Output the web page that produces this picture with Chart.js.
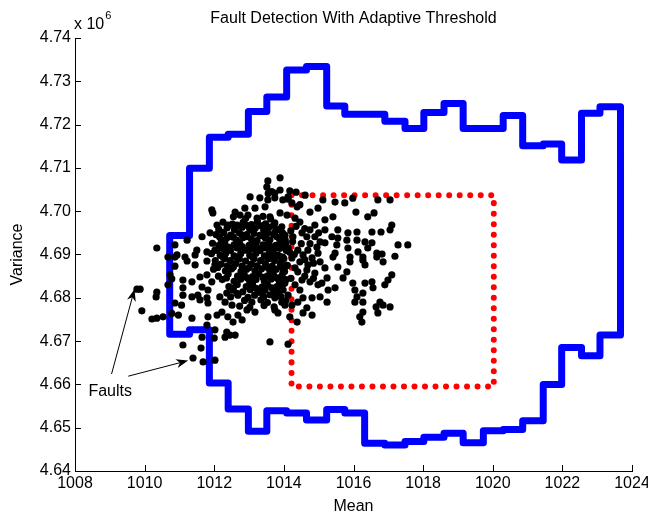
<!DOCTYPE html>
<html><head><meta charset="utf-8">
<script src="https://cdn.jsdelivr.net/npm/chart.js@4.4.1/dist/chart.umd.min.js"></script>
<style>html,body{margin:0;padding:0;background:#fff;}canvas{display:block;}</style>
</head><body>
<canvas id="c" width="648" height="515"></canvas>
<script>
// ---- tick labels ----
const xTicks = [1008, 1010, 1012, 1014, 1016, 1018, 1020, 1022, 1024];
const yTicks = [4.64, 4.65, 4.66, 4.67, 4.68, 4.69, 4.70, 4.71, 4.72, 4.73, 4.74]; // x 10^6

// ---- adaptive threshold (stair envelope) ----
const binEdges = [1010.72, 1011.29, 1011.86, 1012.40, 1012.98, 1013.51, 1014.08, 1014.65, 1015.23, 1015.75, 1016.32, 1016.90, 1017.48, 1018.02, 1018.60, 1019.15, 1019.73, 1020.30, 1020.86, 1021.45, 1021.98, 1022.55, 1023.08, 1023.67];
const upperLimit = [4.6944, 4.7099, 4.7171, 4.7178, 4.7230, 4.7264, 4.7326, 4.7334, 4.7243, 4.7224, 4.7224, 4.7208, 4.7191, 4.7228, 4.7249, 4.7191, 4.7191, 4.7221, 4.7151, 4.7155, 4.7118, 4.7226, 4.7241];
const lowerLimit = [4.6716, 4.6726, 4.6603, 4.6543, 4.6492, 4.6539, 4.6534, 4.6518, 4.6542, 4.6534, 4.6464, 4.6460, 4.6468, 4.6478, 4.6487, 4.6465, 4.6493, 4.6496, 4.6516, 4.6600, 4.6685, 4.6666, 4.6714];

// ---- fixed threshold (rectangle) ----
const fixedMean = [1014.22, 1020.03];
const fixedVariance = [4.6595, 4.7037];

// ---- samples [mean, variance x10^6] ----
const faultSamples = [[1009.78,4.6820],[1009.87,4.6820],[1009.92,4.6770],[1010.21,4.6751],[1010.35,4.6753],[1010.53,4.6756],[1010.35,4.6813],[1010.33,4.6802],[1010.67,4.6830],[1010.73,4.6853],[1010.87,4.6894],[1010.87,4.6873],[1010.35,4.6915],[1011.10,4.6691],[1011.39,4.6661],[1011.62,4.6684],[1011.65,4.6709],[1011.68,4.6652],[1012.02,4.6656],[1012.00,4.6707],[1010.87,4.6788],[1011.36,4.6753],[1011.79,4.6737],[1013.60,4.6698],[1014.12,4.6693]];
const leftSamples = [[1010.78,4.6844],[1010.78,4.6764],[1010.97,4.6760],[1011.06,4.6783],[1011.22,4.6885],[1011.45,4.6876],[1011.79,4.6885],[1012.02,4.6876],[1011.10,4.6841],[1011.36,4.6837],[1011.59,4.6848],[1011.79,4.6853],[1011.93,4.6837],[1011.10,4.6823],[1011.65,4.6825],[1011.82,4.6818],[1011.10,4.6806],[1011.36,4.6802],[1011.53,4.6806],[1011.79,4.6800],[1012.16,4.6802],[1012.36,4.6811],[1011.59,4.6795],[1011.82,4.6788],[1012.31,4.6790],[1012.51,4.6783],[1011.82,4.6756],[1012.08,4.6760],[1012.22,4.6767],[1012.39,4.6756],[1012.68,4.6760],[1012.94,4.6772],[1013.17,4.6767],[1012.80,4.6749],[1012.02,4.6726],[1012.36,4.6721],[1012.45,4.6714],[1012.60,4.6714],[1012.31,4.6709],[1012.54,4.6744]];
const upperLeftSamples = [[1013.54,4.7070],[1013.89,4.7077],[1013.51,4.7056],[1013.74,4.7042],[1013.03,4.7033],[1013.31,4.7031],[1013.54,4.7026],[1013.46,4.7010],[1013.17,4.7007],[1012.88,4.7007],[1011.93,4.7003],[1011.96,4.6996],[1012.60,4.6998],[1012.74,4.6991],[1012.97,4.6991],[1013.23,4.6984],[1012.08,4.6968],[1012.39,4.6968],[1012.65,4.6968],[1011.88,4.6950],[1011.65,4.6941],[1012.51,4.6941],[1012.80,4.6945],[1010.87,4.6922],[1011.22,4.6933],[1011.50,4.6910],[1011.79,4.6906],[1012.02,4.6910],[1010.67,4.6894],[1010.93,4.6899],[1011.16,4.6894],[1011.45,4.6899],[1013.60,4.6987],[1013.55,4.7041],[1013.65,4.7045]];
const upperRightSamples = [[1013.89,4.7049],[1014.17,4.7047],[1014.35,4.7044],[1013.74,4.7031],[1013.97,4.7026],[1014.12,4.7033],[1014.61,4.7037],[1014.38,4.7010],[1015.12,4.7026],[1015.47,4.7021],[1015.75,4.7019],[1015.98,4.7030],[1016.70,4.7026],[1017.05,4.7026],[1014.75,4.6998],[1014.98,4.7007],[1016.07,4.6998],[1016.41,4.6987],[1016.59,4.6996],[1015.18,4.6980],[1015.41,4.6987],[1013.89,4.6996],[1014.09,4.6991],[1014.32,4.6984],[1013.74,4.6973],[1013.94,4.6964],[1014.46,4.6975],[1014.89,4.6968],[1014.75,4.6957],[1015.18,4.6957],[1015.55,4.6957],[1016.10,4.6952],[1015.84,4.6950],[1016.53,4.6952],[1016.79,4.6952],[1017.10,4.6968],[1017.05,4.6957],[1013.74,4.6952],[1014.03,4.6945],[1014.26,4.6941],[1014.52,4.6950],[1014.66,4.6941],[1014.89,4.6941],[1015.04,4.6929],[1015.38,4.6941],[1015.55,4.6938],[1015.81,4.6933],[1016.10,4.6933],[1016.33,4.6929],[1016.53,4.6927],[1017.28,4.6922],[1017.56,4.6922],[1013.83,4.6922],[1014.12,4.6915],[1014.40,4.6910],[1014.69,4.6910],[1014.95,4.6917],[1015.18,4.6927],[1015.52,4.6922],[1015.84,4.6915],[1016.13,4.6906],[1016.41,4.6915],[1014.98,4.6903],[1015.47,4.6903],[1016.67,4.6903],[1016.82,4.6901],[1017.19,4.6896],[1013.74,4.6899],[1013.97,4.6894],[1014.17,4.6905],[1014.55,4.6899],[1014.81,4.6892],[1015.90,4.6894],[1016.27,4.6894],[1014.23,4.7019],[1014.46,4.7015],[1014.12,4.7028]];
const lowerRightSamples = [[1015.41,4.6894],[1015.55,4.6871],[1015.81,4.6860],[1015.90,4.6883],[1016.27,4.6887],[1016.33,4.6876],[1016.67,4.6894],[1016.85,4.6883],[1015.24,4.6846],[1015.09,4.6834],[1015.70,4.6846],[1015.98,4.6834],[1016.33,4.6834],[1016.53,4.6837],[1015.47,4.6823],[1016.04,4.6818],[1016.56,4.6823],[1016.90,4.6830],[1017.10,4.6853],[1016.99,4.6841],[1016.10,4.6802],[1016.27,4.6811],[1016.04,4.6790],[1016.27,4.6790],[1016.76,4.6790],[1016.85,4.6783],[1017.05,4.6779],[1016.65,4.6779],[1016.70,4.6765],[1016.27,4.6767],[1016.18,4.6756],[1016.24,4.6744],[1014.55,4.6800],[1014.81,4.6800],[1015.04,4.6802],[1015.24,4.6790],[1014.66,4.6777],[1014.55,4.6765],[1014.81,4.6760],[1014.17,4.6756],[1014.38,4.6744],[1013.74,4.6800],[1013.89,4.6818],[1014.12,4.6806],[1013.94,4.6790],[1013.74,4.6772],[1013.83,4.6765],[1014.32,4.6830],[1014.52,4.6841],[1014.75,4.6837],[1014.89,4.6857],[1014.69,4.6876],[1014.46,4.6883],[1014.23,4.6892],[1013.94,4.6887],[1014.32,4.6869],[1014.66,4.6864],[1013.97,4.6857],[1014.03,4.6834],[1015.04,4.6883],[1015.18,4.6869],[1014.98,4.6830],[1015.27,4.6818],[1014.46,4.6818],[1014.23,4.6783],[1014.40,4.6790],[1014.03,4.6783],[1014.05,4.6925],[1014.25,4.6930],[1014.50,4.6925],[1014.75,4.6925],[1014.30,4.6900],[1014.60,4.6888],[1014.85,4.6880],[1014.10,4.6875],[1014.40,4.6860],[1014.60,4.6850],[1014.20,4.6845],[1014.85,4.6845],[1014.35,4.6965],[1014.60,4.6960],[1014.20,4.6955],[1015.00,4.6950]];
const coreSamples = [
[1012.55,4.6987],[1012.90,4.6983],[1013.40,4.6988],[1013.62,4.6982],
[1012.25,4.6975],[1012.52,4.6970],[1012.83,4.6974],[1013.07,4.6969],[1013.24,4.6976],[1013.47,4.6971],
[1012.13,4.6958],[1012.37,4.6962],[1012.58,4.6957],[1012.80,4.6963],[1013.02,4.6958],[1013.18,4.6961],[1013.42,4.6956],[1013.57,4.6963],[1013.82,4.6958],
[1012.05,4.6946],[1012.27,4.6951],[1012.47,4.6945],[1012.72,4.6950],[1012.93,4.6946],[1013.14,4.6949],[1013.31,4.6944],[1013.54,4.6950],[1013.71,4.6946],[1013.96,4.6950],
[1012.20,4.6934],[1012.36,4.6938],[1012.64,4.6933],[1012.83,4.6939],[1013.07,4.6935],[1013.23,4.6932],[1013.47,4.6938],[1013.60,4.6934],[1013.87,4.6937],[1014.04,4.6933],
[1011.95,4.6926],[1012.13,4.6921],[1012.30,4.6927],[1012.57,4.6922],[1012.73,4.6926],[1013.00,4.6921],[1013.16,4.6927],[1013.40,4.6922],[1013.56,4.6926],[1013.77,4.6921],[1013.93,4.6927],
[1012.07,4.6910],[1012.23,4.6914],[1012.47,4.6909],[1012.66,4.6915],[1012.90,4.6910],[1013.06,4.6913],[1013.32,4.6909],[1013.48,4.6915],[1013.70,4.6910],[1013.88,4.6914],[1014.07,4.6909],
[1011.92,4.6902],[1012.17,4.6898],[1012.33,4.6903],[1012.57,4.6897],[1012.76,4.6902],[1013.02,4.6898],[1013.20,4.6903],[1013.44,4.6897],[1013.58,4.6902],[1013.84,4.6898],
[1012.03,4.6886],[1012.30,4.6891],[1012.46,4.6886],[1012.72,4.6890],[1012.90,4.6885],[1013.14,4.6890],[1013.33,4.6886],[1013.57,4.6891],[1013.73,4.6886],[1014.00,4.6890],
[1012.20,4.6878],[1012.38,4.6874],[1012.62,4.6879],[1012.80,4.6873],[1013.07,4.6878],[1013.23,4.6874],[1013.47,4.6879],[1013.66,4.6873],[1013.90,4.6878],[1014.08,4.6874],
[1011.98,4.6866],[1012.32,4.6862],[1012.50,4.6867],[1012.77,4.6861],[1012.93,4.6866],[1013.17,4.6862],[1013.36,4.6867],[1013.60,4.6862],[1013.78,4.6866],[1014.02,4.6861],
[1012.12,4.6850],[1012.40,4.6855],[1012.67,4.6850],[1012.86,4.6854],[1013.10,4.6849],[1013.28,4.6855],[1013.52,4.6850],[1013.70,4.6854],[1013.94,4.6850],
[1012.23,4.6842],[1012.57,4.6838],[1012.76,4.6843],[1013.02,4.6837],[1013.20,4.6842],[1013.44,4.6838],[1013.63,4.6843],[1013.87,4.6838],[1014.06,4.6842],
[1012.42,4.6826],[1012.66,4.6831],[1012.92,4.6826],[1013.10,4.6830],[1013.37,4.6825],[1013.53,4.6830],[1013.80,4.6826],[1013.96,4.6830],
[1012.53,4.6818],[1012.82,4.6814],[1013.03,4.6819],[1013.27,4.6813],[1013.46,4.6818],[1013.72,4.6814],[1013.98,4.6818],
[1012.47,4.6802],[1012.68,4.6806],[1012.97,4.6801],[1013.16,4.6806],[1013.42,4.6802],[1013.60,4.6807],[1013.92,4.6802],
[1012.87,4.6794],[1013.08,4.6790],[1013.34,4.6795],[1013.53,4.6789],[1014.05,4.6793],
[1012.73,4.6781],[1013.02,4.6778],[1013.43,4.6782],[1013.72,4.6779]];
const coreFillSamples = [
[1012.40,4.6967],[1012.68,4.6966],[1012.95,4.6967],[1013.35,4.6966],[1013.70,4.6967],
[1012.15,4.6941],[1012.55,4.6940],[1012.95,4.6941],[1013.42,4.6942],[1013.80,4.6941],
[1012.40,4.6917],[1012.80,4.6918],[1013.22,4.6917],[1013.62,4.6918],[1014.00,4.6917],
[1012.25,4.6894],[1012.65,4.6893],[1013.10,4.6894],[1013.50,4.6895],[1013.92,4.6894],
[1012.10,4.6870],[1012.55,4.6871],[1013.00,4.6870],[1013.55,4.6869],[1013.95,4.6870],
[1012.35,4.6846],[1012.95,4.6846],[1013.40,4.6847],[1013.80,4.6846],
[1012.55,4.6822],[1013.20,4.6822],[1013.65,4.6823],
[1012.65,4.6810],[1013.38,4.6810],[1013.85,4.6811]];

// ---- annotation (data coordinates) ----
const faultLabel = {mean: 1009.01, variance: 4.6584, text: 'Faults'};
const faultArrows = [
  {from: [1009.05, 4.6624], to: [1009.71, 4.6820]},
  {from: [1009.53, 4.6619], to: [1011.25, 4.6655]}
];

// ---- build datasets ----
const toXY = p => ({x: p[0], y: p[1]});
const samplePoints = [].concat(faultSamples, leftSamples, upperLeftSamples, upperRightSamples, lowerRightSamples, coreSamples, coreFillSamples).map(toXY);

const adaptivePath = [];
adaptivePath.push({x: binEdges[0], y: lowerLimit[0]});
for (let i = 0; i < upperLimit.length; i++) {
  adaptivePath.push({x: binEdges[i], y: upperLimit[i]});
  adaptivePath.push({x: binEdges[i + 1], y: upperLimit[i]});
}
for (let i = lowerLimit.length - 1; i >= 0; i--) {
  adaptivePath.push({x: binEdges[i + 1], y: lowerLimit[i]});
  adaptivePath.push({x: binEdges[i], y: lowerLimit[i]});
}

const fixedPath = [
  {x: fixedMean[0], y: fixedVariance[1]},
  {x: fixedMean[1], y: fixedVariance[1]},
  {x: fixedMean[1], y: fixedVariance[0]},
  {x: fixedMean[0], y: fixedVariance[0]},
  {x: fixedMean[0], y: fixedVariance[1]}
];

const FONT = "'Liberation Sans', Arial, Helvetica, sans-serif";

const inwardTicks = {
  id: 'inwardTicks',
  afterDraw(chart) {
    const {ctx, chartArea: {left, bottom}, scales: {x, y}} = chart;
    ctx.save();
    ctx.strokeStyle = '#000';
    ctx.lineWidth = 1;
    ctx.beginPath();
    xTicks.forEach(v => { const px = Math.round(x.getPixelForValue(v)) + 0.5; ctx.moveTo(px, bottom); ctx.lineTo(px, bottom - 6); });
    yTicks.forEach(v => { const py = Math.round(y.getPixelForValue(v)) + 0.5; ctx.moveTo(left, py); ctx.lineTo(left + 6, py); });
    ctx.stroke();
    ctx.restore();
  }
};

function arrow(ctx, x0, y0, x1, y1) {
  const dx = x1 - x0, dy = y1 - y0, len = Math.hypot(dx, dy);
  const ux = dx / len, uy = dy / len, nx = -uy, ny = ux;
  const L = 12, W = 4.5;
  ctx.beginPath();
  ctx.moveTo(x0, y0);
  ctx.lineTo(x1 - ux * L * 0.7, y1 - uy * L * 0.7);
  ctx.stroke();
  ctx.beginPath();
  ctx.moveTo(x1, y1);
  ctx.lineTo(x1 - ux * L + nx * W, y1 - uy * L + ny * W);
  ctx.lineTo(x1 - ux * L * 0.7, y1 - uy * L * 0.7);
  ctx.lineTo(x1 - ux * L - nx * W, y1 - uy * L - ny * W);
  ctx.closePath();
  ctx.fill();
}

const annotations = {
  id: 'annotations',
  afterDraw(chart) {
    const {ctx, chartArea, scales: {x, y}} = chart;
    ctx.save();
    ctx.fillStyle = '#000';
    ctx.strokeStyle = '#000';
    ctx.lineWidth = 1;
    ctx.font = '16px ' + FONT;
    ctx.textAlign = 'left';
    ctx.textBaseline = 'alphabetic';
    const base = 'x 10';
    ctx.fillText(base, chartArea.left - 1, chartArea.top - 9);
    const w = ctx.measureText(base).width;
    ctx.font = '11px ' + FONT;
    ctx.fillText('6', chartArea.left - 1 + w + 1, chartArea.top - 19);
    ctx.font = '16px ' + FONT;
    ctx.textAlign = 'center';
    ctx.textBaseline = 'middle';
    ctx.fillText(faultLabel.text, x.getPixelForValue(faultLabel.mean), y.getPixelForValue(faultLabel.variance));
    faultArrows.forEach(a => arrow(ctx,
      x.getPixelForValue(a.from[0]), y.getPixelForValue(a.from[1]),
      x.getPixelForValue(a.to[0]), y.getPixelForValue(a.to[1])));
    ctx.restore();
  }
};

new Chart(document.getElementById('c'), {
  type: 'scatter',
  data: {
    datasets: [
      {label: 'Samples', data: samplePoints, pointRadius: 3.6, pointHoverRadius: 3.6,
       pointBackgroundColor: '#000', pointBorderWidth: 0, showLine: false},
      {label: 'Adaptive threshold', data: adaptivePath, showLine: true, borderColor: '#0000ff',
       borderWidth: 7, pointRadius: 0, pointHoverRadius: 0, borderJoinStyle: 'round', borderCapStyle: 'round', fill: false},
      {label: 'Fixed threshold', data: fixedPath, showLine: true, borderColor: '#ff0000',
       borderWidth: 6, pointRadius: 0, pointHoverRadius: 0, borderDash: [0.01, 10.5], borderCapStyle: 'round', fill: false}
    ]
  },
  options: {
    responsive: false,
    animation: false,
    devicePixelRatio: 1,
    events: [],
    layout: {padding: {top: 0, right: 16, bottom: 0, left: 0}},
    plugins: {
      legend: {display: false},
      tooltip: {enabled: false},
      title: {display: true, text: 'Fault Detection With Adaptive Threshold', color: '#000',
              font: {family: FONT, size: 16, weight: 'normal'}, padding: {top: 9.4, bottom: 9.4}, fullSize: false}
    },
    scales: {
      x: {
        type: 'linear', min: 1008, max: 1024,
        afterBuildTicks: s => { s.ticks = xTicks.map(v => ({value: v})); },
        afterFit: s => { s.height = 44; s.paddingLeft = 0; s.paddingRight = 0; },
        grid: {display: false, drawTicks: false},
        border: {display: true, color: '#000', width: 1},
        ticks: {color: '#000', font: {family: FONT, size: 16}, padding: 3, maxRotation: 0, autoSkip: false,
                callback: v => String(v)},
        title: {display: true, text: 'Mean', color: '#000', font: {family: FONT, size: 16, lineHeight: 1}, padding: 0}
      },
      y: {
        type: 'linear', min: 4.64, max: 4.74,
        afterBuildTicks: s => { s.ticks = yTicks.map(v => ({value: v})); },
        afterFit: s => { s.width = 75; s.paddingTop = 0; s.paddingBottom = 0; },
        grid: {display: false, drawTicks: false},
        border: {display: true, color: '#000', width: 1},
        ticks: {color: '#000', font: {family: FONT, size: 16}, padding: 4, autoSkip: false,
                callback: v => Number(v).toFixed(2)},
        title: {display: true, text: 'Variance', color: '#000', font: {family: FONT, size: 16}, padding: {top: 8, bottom: 0}}
      }
    }
  },
  plugins: [inwardTicks, annotations]
});
</script>
</body></html>
